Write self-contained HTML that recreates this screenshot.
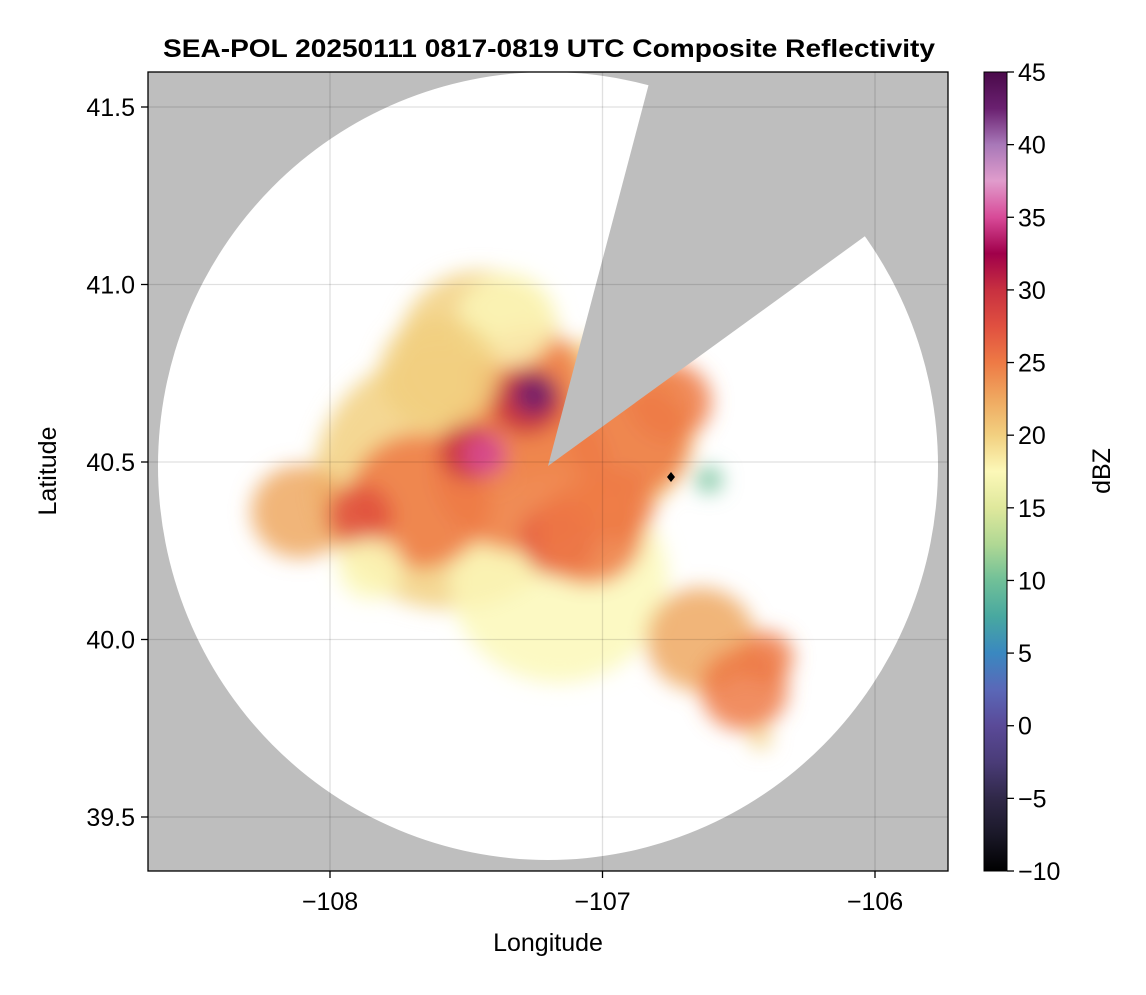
<!DOCTYPE html>
<html><head><meta charset="utf-8"><style>
body{margin:0;background:#fff;font-family:"Liberation Sans",sans-serif}
svg text{font-family:"Liberation Sans",sans-serif}
</style></head><body>
<svg id="chart" width="1146" height="990" xmlns="http://www.w3.org/2000/svg">
<defs>
<clipPath id="plotclip"><rect x="148" y="72" width="800" height="799"/></clipPath>
<filter id="blur" x="-50%" y="-50%" width="200%" height="200%"><feGaussianBlur stdDeviation="10"/></filter>
<linearGradient id="cbgrad" x1="0" y1="1" x2="0" y2="0"></linearGradient>
</defs>
<text x="549" y="57" text-anchor="middle" font-size="25" font-weight="bold" textLength="772" lengthAdjust="spacingAndGlyphs">SEA-POL 20250111 0817-0819 UTC Composite Reflectivity</text>
<g clip-path="url(#plotclip)">
<rect x="148" y="72" width="800" height="799" fill="#bebebe"/>
<ellipse cx="548" cy="466" rx="390" ry="394" fill="#fff"/>
<g id="echoes" filter="url(#blur)"></g>
<polygon points="548,466 652,72 948,72 948,176" fill="#bebebe"/>
<g id="grid"></g>
</g>
<rect x="148" y="72" width="800" height="799" fill="none" stroke="#000" stroke-width="1.3"/>
<g id="axes"></g>
<rect x="984" y="72" width="23" height="799" fill="url(#cbgrad)" stroke="#000" stroke-width="1"/>
<path d="M671,472 l4,5 l-4,5 l-4,-5z" fill="#000"/>
<text x="548" y="951" text-anchor="middle" font-size="25">Longitude</text>
<text transform="translate(56,471) rotate(-90)" text-anchor="middle" font-size="25">Latitude</text>
<text transform="translate(1110,471) rotate(-90)" text-anchor="middle" font-size="25">dBZ</text>
</svg>
<script>
const xTicks=[-108,-107,-106];
const yTicks=[39.5,40.0,40.5,41.0,41.5];
const yTickLabels=["39.5","40.0","40.5","41.0","41.5"];
const cbTicks=[-10,-5,0,5,10,15,20,25,30,35,40,45];
const echoLon=[-107.56,-107.01,-107.45,-107.16,-106.64,-106.48,-108.11,-107.30,-107.67,-106.90,-106.75,-107.27,-107.28,-107.89,-107.49,-107.16,-107.43,-107.25,-106.61,-106.42,-107.05,-107.35,-107.60,-106.40,-107.85,-106.95];
const echoLat=[40.45,40.59,40.82,40.17,40.00,39.86,40.36,40.48,40.39,40.56,40.67,40.73,40.67,40.35,40.53,40.28,40.52,40.69,40.45,39.72,40.30,40.90,40.75,39.95,40.20,40.38];
const echoRadius=[0.50,0.35,0.30,0.40,0.20,0.16,0.18,0.32,0.26,0.22,0.15,0.20,0.13,0.12,0.11,0.14,0.08,0.08,0.05,0.04,0.20,0.18,0.22,0.10,0.12,0.14];
const echoDBZ=[20,21,20,19,23,25,23,25,25,26,27,26,30,28,31,28,36,43,12,20,25,19,21,26,19,25];
const cmapVals=[-10,-7.5,-5,-2.5,0,2.5,5,7.5,10,12.5,15,17.5,20,22.5,25,27.5,30,32.5,35,37.5,40,42.5,45];
const cmapCols=["#000000","#1a1828","#302848","#4a3c78","#5a4a98","#5a68b8","#3a88c0","#48a8a0","#70c098","#b0d894","#dfe89c","#fcf8b8","#f2d080","#efa860","#ee7a45","#e05040","#c83040","#a0004a","#d84a98","#e09ccc","#a878b8","#6a2070","#4a0a4a"];
const NS="http://www.w3.org/2000/svg";
const X=lon=>330+(lon+108)*272.5;
const Y=lat=>462-(lat-40.5)*355;
const CB=v=>871-(v+10)*(799/55);
function mk(t,a,p){const e=document.createElementNS(NS,t);for(const k in a)e.setAttribute(k,a[k]);(p||document.getElementById('chart')).appendChild(e);return e;}
function color(v){for(let i=0;i<cmapVals.length-1;i++){if(v<cmapVals[i+1])return cmapCols[i];}return cmapCols[cmapCols.length-1];}
const grad=document.getElementById('cbgrad');
cmapVals.forEach((v,i)=>{mk('stop',{offset:((v+10)/55),'stop-color':cmapCols[i]},grad);});
const grid=document.getElementById('grid'),axes=document.getElementById('axes'),echoes=document.getElementById('echoes');
echoLon.forEach((lon,i)=>{
 const c=mk('ellipse',{cx:X(lon),cy:Y(echoLat[i]),rx:echoRadius[i]*272.5,ry:echoRadius[i]*272.5*0.95,fill:color(echoDBZ[i]),opacity:0.85},echoes);
 
 
});
xTicks.forEach(t=>{
 const g=mk('line',{x1:X(t),x2:X(t),y1:72,y2:871,stroke:'#000','stroke-opacity':0.12,'stroke-width':1.3},grid);
 
 const k=mk('line',{x1:X(t),x2:X(t),y1:871,y2:878,stroke:'#000','stroke-width':1.3},axes);
 
 const l=mk('text',{x:X(t),y:910,'text-anchor':'middle','font-size':25},axes);l.textContent='\u2212'+Math.abs(t);
 
});
yTicks.forEach((t,i)=>{
 const g=mk('line',{x1:148,x2:948,y1:Y(t),y2:Y(t),stroke:'#000','stroke-opacity':0.12,'stroke-width':1.3},grid);
 
 const k=mk('line',{x1:141,x2:148,y1:Y(t),y2:Y(t),stroke:'#000','stroke-width':1.3},axes);
 
 const l=mk('text',{x:135,y:Y(t)+9,'text-anchor':'end','font-size':25},axes);l.textContent=yTickLabels[i];
 
});
cbTicks.forEach(t=>{
 const k=mk('line',{x1:1007,x2:1014,y1:CB(t),y2:CB(t),stroke:'#000','stroke-width':1.3},axes);
 
 const l=mk('text',{x:1018,y:CB(t)+9,'font-size':25},axes);l.textContent=(t<0?'\u2212'+Math.abs(t):String(t));
 
});
</script>
</body></html>
